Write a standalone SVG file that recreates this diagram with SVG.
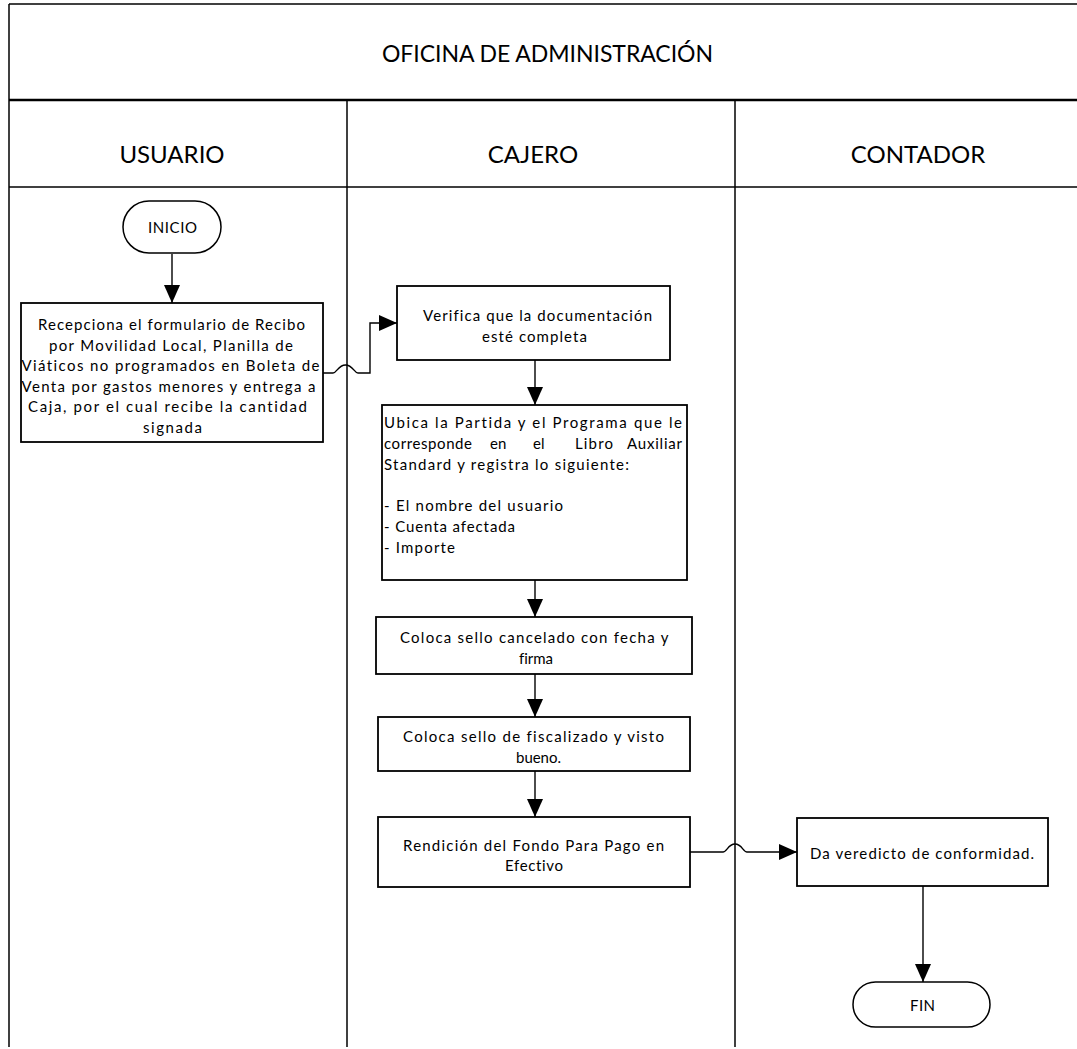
<svg xmlns="http://www.w3.org/2000/svg" width="1077" height="1049" viewBox="0 0 1077 1049">
  <defs>
    <style>
      .frame { fill: none; stroke: #000; stroke-width: 1.5; }
      .frame-bold { fill: none; stroke: #000; stroke-width: 2.5; }
      .box { fill: #fff; stroke: #000; stroke-width: 1.8; }
      .term { fill: #fff; stroke: #000; stroke-width: 1.5; }
      .conn { fill: none; stroke: #000; stroke-width: 1.4; }
      text { font-variant-ligatures: none; font-feature-settings: "liga" 0, "clig" 0; }
      .title { font-family: Lato, "Liberation Sans", sans-serif; font-size: 23px; fill: #000; }
      .lane { font-family: Lato, "Liberation Sans", sans-serif; font-size: 24px; fill: #000; text-anchor: middle; }
      .txt { font-family: Lato, "Liberation Sans", sans-serif; font-size: 15px; fill: #000; }
      .mid { text-anchor: middle; }
    </style>
    <marker id="arrow" markerUnits="userSpaceOnUse" markerWidth="19" markerHeight="17" refX="18" refY="8" orient="auto">
      <path d="M0,0 L18,8 L0,16 Z" fill="#000"/>
    </marker>
  </defs>

  <rect width="1077" height="1049" fill="#fff"/>

  <!-- Pool and swimlane frame -->
  <g id="frame">
    <line class="frame" x1="9" y1="4" x2="1077" y2="4"/>
    <line class="frame" x1="9" y1="4" x2="9" y2="1047"/>
    <line class="frame-bold" x1="9" y1="100" x2="1077" y2="100"/>
    <line class="frame" x1="9" y1="187" x2="1077" y2="187"/>
    <line class="frame" x1="347" y1="100" x2="347" y2="1047"/>
    <line class="frame" x1="735" y1="100" x2="735" y2="1047"/>
    <text class="title" x="382" y="62" textLength="331" lengthAdjust="spacing">OFICINA DE ADMINISTRACIÓN</text>
    <text class="lane" x="172" y="163">USUARIO</text>
    <text class="lane" x="533" y="163">CAJERO</text>
    <text class="lane" x="918" y="163">CONTADOR</text>
  </g>

  <!-- Connectors -->
  <g id="connectors">
    <path class="conn" d="M172,254 V303" marker-end="url(#arrow)"/>
    <path class="conn" d="M323,373 H333 C337,373 338,365 345.5,365 C353,365 354,373 358,373 H370 V323 H397" marker-end="url(#arrow)"/>
    <path class="conn" d="M535,360 V405" marker-end="url(#arrow)"/>
    <path class="conn" d="M535,580 V617" marker-end="url(#arrow)"/>
    <path class="conn" d="M535,674 V717" marker-end="url(#arrow)"/>
    <path class="conn" d="M535,771 V817" marker-end="url(#arrow)"/>
    <path class="conn" d="M690,852 H723 C727,852 728,844 735,844 C742,844 743,852 747,852 H797" marker-end="url(#arrow)"/>
    <path class="conn" d="M923,886 V982" marker-end="url(#arrow)"/>
  </g>

  <!-- Start -->
  <g id="inicio">
    <rect class="term" x="123" y="201" width="98" height="52" rx="26" ry="26"/>
    <text class="txt" x="148" y="233" font-size="14" textLength="49" lengthAdjust="spacing">INICIO</text>
  </g>

  <!-- Usuario: receives form -->
  <g id="recepciona">
    <rect class="box" x="21" y="303" width="302" height="139"/>
    <text class="txt">
      <tspan x="38" y="330" textLength="267" lengthAdjust="spacing">Recepciona el formulario de Recibo</tspan>
      <tspan x="49" y="350.6" textLength="244" lengthAdjust="spacing">por Movilidad Local, Planilla de</tspan>
      <tspan x="21.5" y="371.2" textLength="298" lengthAdjust="spacing">Viáticos no programados en Boleta de</tspan>
      <tspan x="21.5" y="391.8" textLength="294" lengthAdjust="spacing">Venta por gastos menores y entrega a</tspan>
      <tspan x="28" y="412.4" textLength="279" lengthAdjust="spacing">Caja, por el cual recibe la cantidad</tspan>
      <tspan x="143" y="433" textLength="59" lengthAdjust="spacing">signada</tspan>
    </text>
  </g>

  <!-- Cajero: verification -->
  <g id="verifica">
    <rect class="box" x="397" y="286" width="273" height="74"/>
    <text class="txt">
      <tspan x="423" y="320.5" textLength="229" lengthAdjust="spacing">Verifica que la documentación</tspan>
      <tspan x="482" y="341.5" textLength="105" lengthAdjust="spacing">esté completa</tspan>
    </text>
  </g>

  <!-- Cajero: ledger entry -->
  <g id="ubica">
    <rect class="box" x="382" y="405" width="305" height="175" stroke-width="1.4"/>
    <text class="txt">
      <tspan x="384" y="427.5" textLength="298" lengthAdjust="spacing">Ubica la Partida y el Programa que le</tspan>
    </text>
    <!-- justified line: words placed one by one -->
    <text class="txt">
      <tspan x="384" y="448.5" textLength="88" lengthAdjust="spacing">corresponde</tspan>
      <tspan x="490" y="448.5">en</tspan>
      <tspan x="533" y="448.5">el</tspan>
      <tspan x="575" y="448.5" textLength="38" lengthAdjust="spacing">Libro</tspan>
      <tspan x="627" y="448.5" textLength="55" lengthAdjust="spacing">Auxiliar</tspan>
    </text>
    <text class="txt">
      <tspan x="384" y="469.5" textLength="245" lengthAdjust="spacing">Standard y registra lo siguiente:</tspan>
      <tspan x="384" y="510.5" textLength="179" lengthAdjust="spacing">- El nombre del usuario</tspan>
      <tspan x="384" y="531.5" textLength="131" lengthAdjust="spacing">- Cuenta afectada</tspan>
      <tspan x="384" y="552.5" textLength="71" lengthAdjust="spacing">- Importe</tspan>
    </text>
  </g>

  <!-- Cajero: cancel stamp -->
  <g id="sello-cancelado">
    <rect class="box" x="376" y="617" width="316" height="57" stroke-width="2"/>
    <text class="txt">
      <tspan x="400" y="642.5" textLength="268" lengthAdjust="spacing">Coloca sello cancelado con fecha y</tspan>
      <tspan x="519" y="663.5" textLength="34" lengthAdjust="spacing">firma</tspan>
    </text>
  </g>

  <!-- Cajero: audit stamp -->
  <g id="sello-fiscalizado">
    <rect class="box" x="378" y="717" width="312" height="54" stroke-width="2"/>
    <text class="txt">
      <tspan x="403" y="741.5" textLength="261" lengthAdjust="spacing">Coloca sello de fiscalizado y visto</tspan>
      <tspan x="516" y="762.5" textLength="45" lengthAdjust="spacing">bueno.</tspan>
    </text>
  </g>

  <!-- Cajero: fund rendering -->
  <g id="rendicion">
    <rect class="box" x="378" y="817" width="312" height="70"/>
    <text class="txt">
      <tspan x="403" y="850.5" textLength="261" lengthAdjust="spacing">Rendición del Fondo Para Pago en</tspan>
      <tspan x="505" y="870.5" textLength="58" lengthAdjust="spacing">Efectivo</tspan>
    </text>
  </g>

  <!-- Contador: verdict -->
  <g id="veredicto">
    <rect class="box" x="797" y="818" width="251" height="68"/>
    <text class="txt" x="810" y="858.5" textLength="224" lengthAdjust="spacing">Da veredicto de conformidad.</text>
  </g>

  <!-- End -->
  <g id="fin">
    <rect class="term" x="853" y="982" width="137" height="45" rx="22.5" ry="22.5"/>
    <text class="txt" x="910" y="1011" font-size="14" textLength="25" lengthAdjust="spacing">FIN</text>
  </g>
</svg>
